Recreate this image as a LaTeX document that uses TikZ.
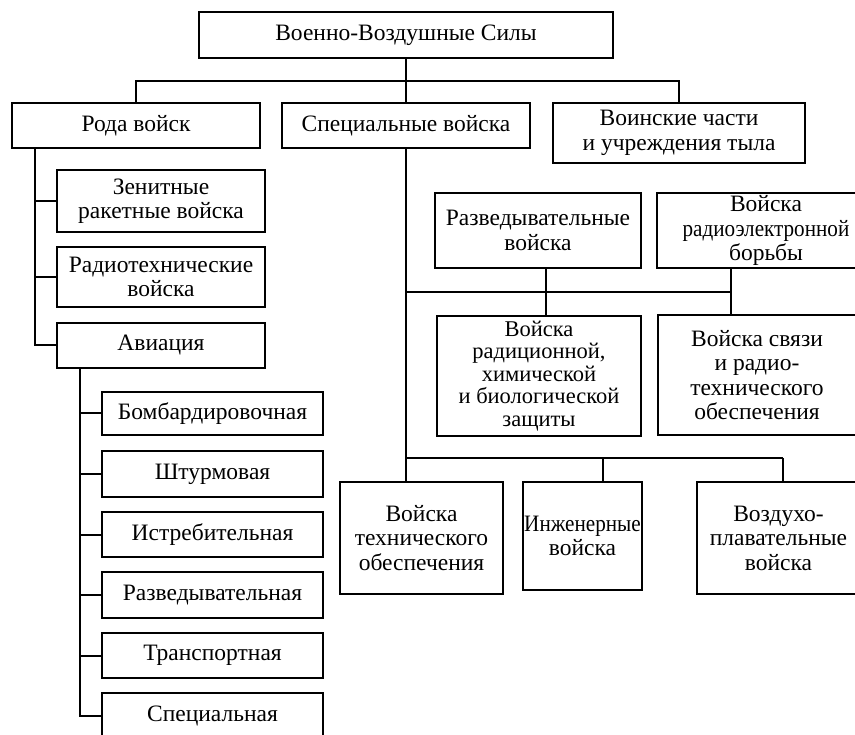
\documentclass[tikz,border=0pt]{standalone}
\usepackage{fontspec}
\setmainfont{Liberation Serif}
\newfontfamily\narrowserif[FakeStretch=0.9]{Liberation Serif}
\begin{document}
\begin{tikzpicture}[x=1pt,y=-1pt,
  box/.style={draw, line width=2pt, inner sep=0pt, outer sep=0pt, align=center,
    font=\fontsize{23.5}{24.5}\selectfont},
  conn/.style={line width=2pt}]
\useasboundingbox[fill=white] (0,0) rectangle (855,735);
\clip (0,0) rectangle (855,735);
% top
\node[box, minimum width=414pt, minimum height=46pt] (top) at (406,35) {Военно-Воздушные Силы};
% second row
\node[box, minimum width=248pt, minimum height=45pt] (rod) at (136,125.5) {Рода войск};
\node[box, minimum width=248pt, minimum height=45pt] (spec) at (406,125.5) {Специальные войска};
\node[box, minimum width=252pt, minimum height=60pt] (tyl) at (679,133) {Воинские части\\и учреждения тыла};
% rod branches
\node[box, minimum width=208pt, minimum height=62pt] (zen) at (161,201) {Зенитные\\ракетные войска};
\node[box, minimum width=208pt, minimum height=60pt] (radt) at (161,277) {Радиотехнические\\войска};
\node[box, minimum width=208pt, minimum height=45pt] (avia) at (161,345.5) {Авиация};
% aviation branches
\node[box, minimum width=221pt, minimum height=43pt] (bomb) at (212.5,413.5) {Бомбардировочная};
\node[box, minimum width=221pt, minimum height=46pt] (shtur) at (212.5,474) {Штурмовая};
\node[box, minimum width=221pt, minimum height=45pt] (istr) at (212.5,534.5) {Истребительная};
\node[box, minimum width=221pt, minimum height=46pt] (razv) at (212.5,595) {Разведывательная};
\node[box, minimum width=221pt, minimum height=45pt] (trans) at (212.5,655.5) {Транспортная};
\node[box, minimum width=221pt, minimum height=46pt] (specav) at (212.5,716) {Специальная};
% special troops
\node[box, minimum width=206pt, minimum height=75pt] (razvv) at (538,230.5) {Разведывательные\\войска};
\node[box, minimum width=218pt, minimum height=75pt] (reb) at (766,230.5) {Войска\\{\narrowserif радиоэлектронной}\\борьбы};
\node[box, minimum width=204pt, minimum height=120pt,
  font=\fontsize{22.5}{22.5}\selectfont] (rhbz) at (539,376) {Войска\\радиционной,\\химической\\и биологической\\защиты};
\node[box, minimum width=198pt, minimum height=120pt] (sv) at (757,375) {Войска связи\\и радио-\\технического\\обеспечения};
\node[box, minimum width=163pt, minimum height=112pt] (vtex) at (421.5,538) {Войска\\технического\\обеспечения};
\node[box, minimum width=119pt, minimum height=108pt] (inzh) at (582.5,536) {{\narrowserif Инженерные}\\войска};
\node[box, minimum width=163pt, minimum height=112pt] (vozd) at (778.5,538) {Воздухо-\\плавательные\\войска};
% junction coordinates
\coordinate (rl) at (35,148);
\coordinate (al) at (80,368);
\coordinate (c1) at (546,292);
\coordinate (c2) at (731,292);
\coordinate (c3) at (603,458);
\coordinate (c4) at (783,458);
% connectors
\draw[conn] (top.south) -- (spec.north);
\draw[conn] (rod.north) -- ++(0,-22) -| (tyl.north);
\draw[conn] (rl) |- (avia.west);
\draw[conn] (rl |- zen.west) -- (zen.west);
\draw[conn] (rl |- radt.west) -- (radt.west);
\draw[conn] (al) |- (specav.west);
\foreach \n in {bomb,shtur,istr,razv,trans}
  \draw[conn] (al |- \n.west) -- (\n.west);
\draw[conn] (spec.south) -- (spec.south |- vtex.north);
\draw[conn] (spec.south |- c1) -- (c2);
\draw[conn] (razvv.south -| c1) -- (rhbz.north -| c1);
\draw[conn] (reb.south -| c2) -- (sv.north -| c2);
\draw[conn] (spec.south |- c3) -- (c4);
\draw[conn] (c3) -- (inzh.north -| c3);
\draw[conn] (c4) -- (vozd.north -| c4);
\end{tikzpicture}
\end{document}
